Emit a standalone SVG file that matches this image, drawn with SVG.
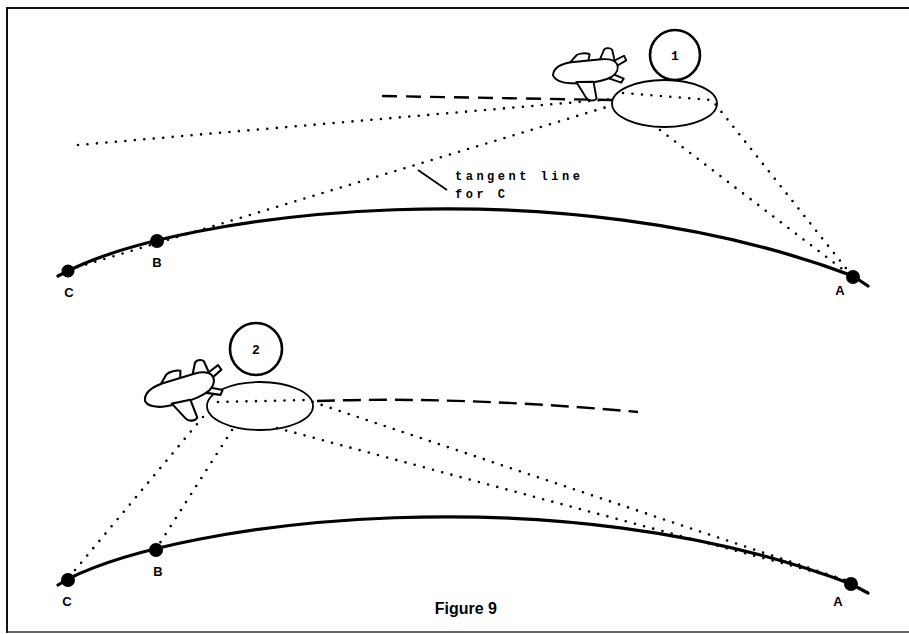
<svg xmlns="http://www.w3.org/2000/svg" width="909" height="634" viewBox="0 0 909 634">
  <style>
    .frame { fill: none; stroke: #111; stroke-width: 2; }
    .earth { fill: none; stroke: #000; stroke-width: 3.2; stroke-linecap: round; stroke-linejoin: round; }
    .sight { fill: none; stroke: #000; stroke-width: 2.6; stroke-linecap: round; stroke-dasharray: 0 9.5; }
    .track { fill: none; stroke: #000; stroke-width: 2.4; stroke-dasharray: 15 9; }
    .zone { fill: none; stroke: #000; stroke-width: 1.8; }
    .badge { fill: none; stroke: #000; stroke-width: 2.6; }
    .pt { fill: #000; }
    .lbl { font-family: "Liberation Sans", Arial, sans-serif; font-weight: bold; font-size: 13px; text-anchor: middle; fill: #000; }
    .num { font-family: "Liberation Mono", "Courier New", monospace; font-weight: bold; font-size: 13px; text-anchor: middle; fill: #000; }
    .note { font-family: "Liberation Mono", "Courier New", monospace; font-weight: bold; font-size: 12px; letter-spacing: 3.5px; fill: #000; }
    .caption { font-family: "Liberation Sans", Arial, sans-serif; font-weight: bold; font-size: 16px; fill: #000; }
    .jet path { fill: #fff; stroke: #000; stroke-width: 2; stroke-linejoin: round; }
  </style>
  <defs>
    <!-- stubby jet, nose at the origin, fuselage along +x -->
    <g id="jet" class="jet">
      <path d="M18,-11 L26,-19 C29,-21 37,-21 40,-19 L38,-12 Z"/>
      <path d="M50,-12 L55,-22 C56,-25 62,-25 64,-22 L66,-9 Z"/>
      <path d="M64,-10 L76,-15 L78,-10 L68,-5 Z"/>
      <path d="M60,2 L74,9 L71,13 L57,7 Z"/>
      <path d="M0,0 C1,-7 9,-11 20,-12 L52,-13 C60,-13 66,-11 68,-7 C70,-2 67,3 62,6 C54,10 42,11 30,11 L18,10 C8,9 1,5 0,0 Z"/>
      <path d="M24,9 L33,26 C35,30 42,31 44,28 L42,10 Z"/>
    </g>
  </defs>

  <!-- frame -->
  <path class="frame" d="M7,633 L7,8 L909,8"/>
  <path d="M7,632 L909,632" stroke="#333" stroke-width="1.5" fill="none"/>

  <!-- upper panel -->
  <g id="connectors-1">
    <path class="sight" d="M78,145 L613,99"/>
    <path class="sight" d="M68,270 L610,106"/>
    <path class="sight" d="M623,93 L712,100 L853,277"/>
    <path class="sight" d="M660,130 L850,275"/>
    <path class="track" d="M382,96 L612,100"/>
    <path d="M418,170 L447,190" stroke="#000" stroke-width="1.8" fill="none"/>
  </g>
  <g id="earth-1">
    <path class="earth" d="M58,276 L68,271 C185,212 560,165 853,276 L868,286"/>
  </g>
  <g id="point-C-1"><circle class="pt" cx="68" cy="271" r="6.5"/><text class="lbl" x="69" y="297">C</text></g>
  <g id="point-B-1"><circle class="pt" cx="157" cy="241" r="7"/><text class="lbl" x="157" y="267">B</text></g>
  <g id="point-A-1"><circle class="pt" cx="853" cy="277" r="7"/><text class="lbl" x="840" y="295">A</text></g>
  <g id="zone-1"><ellipse class="zone" cx="664.5" cy="103.5" rx="52.5" ry="23.5"/></g>
  <g id="jet-1"><use href="#jet" transform="translate(553,75) rotate(-4) scale(0.95)"/></g>
  <g id="badge-1"><circle class="badge" cx="675" cy="55" r="25"/><text class="num" x="675" y="60">1</text></g>
  <g id="tangent-note">
    <text class="note" x="455" y="180">tangent line</text>
    <text class="note" x="455" y="198">for C</text>
  </g>

  <!-- lower panel -->
  <g id="connectors-2">
    <path class="sight" d="M218,402 L307,400 L851,582"/>
    <path class="sight" d="M277,428 L849,581"/>
    <path class="sight" d="M203,417 L70,576"/>
    <path class="sight" d="M232,430 L158,546"/>
    <path class="track" d="M317,401 Q460,396 638,412" style="stroke-dasharray:18 8"/>
  </g>
  <g id="earth-2">
    <path class="earth" d="M58,585 L68,579 C185,520 560,473 851,584 L868,593"/>
  </g>
  <g id="point-C-2"><circle class="pt" cx="68" cy="580" r="7"/><text class="lbl" x="67" y="606">C</text></g>
  <g id="point-B-2"><circle class="pt" cx="156" cy="550" r="7"/><text class="lbl" x="158" y="576">B</text></g>
  <g id="point-A-2"><circle class="pt" cx="851" cy="584" r="7"/><text class="lbl" x="838" y="606">A</text></g>
  <g id="zone-2"><ellipse class="zone" cx="260" cy="406" rx="53" ry="24"/></g>
  <g id="jet-2"><use href="#jet" transform="translate(145,401) rotate(-15) scale(1.05)"/></g>
  <g id="badge-2"><circle class="badge" cx="256" cy="349" r="26"/><text class="num" x="256" y="354">2</text></g>

  <text class="caption" x="497" y="614" text-anchor="end">Figure 9</text>
</svg>
